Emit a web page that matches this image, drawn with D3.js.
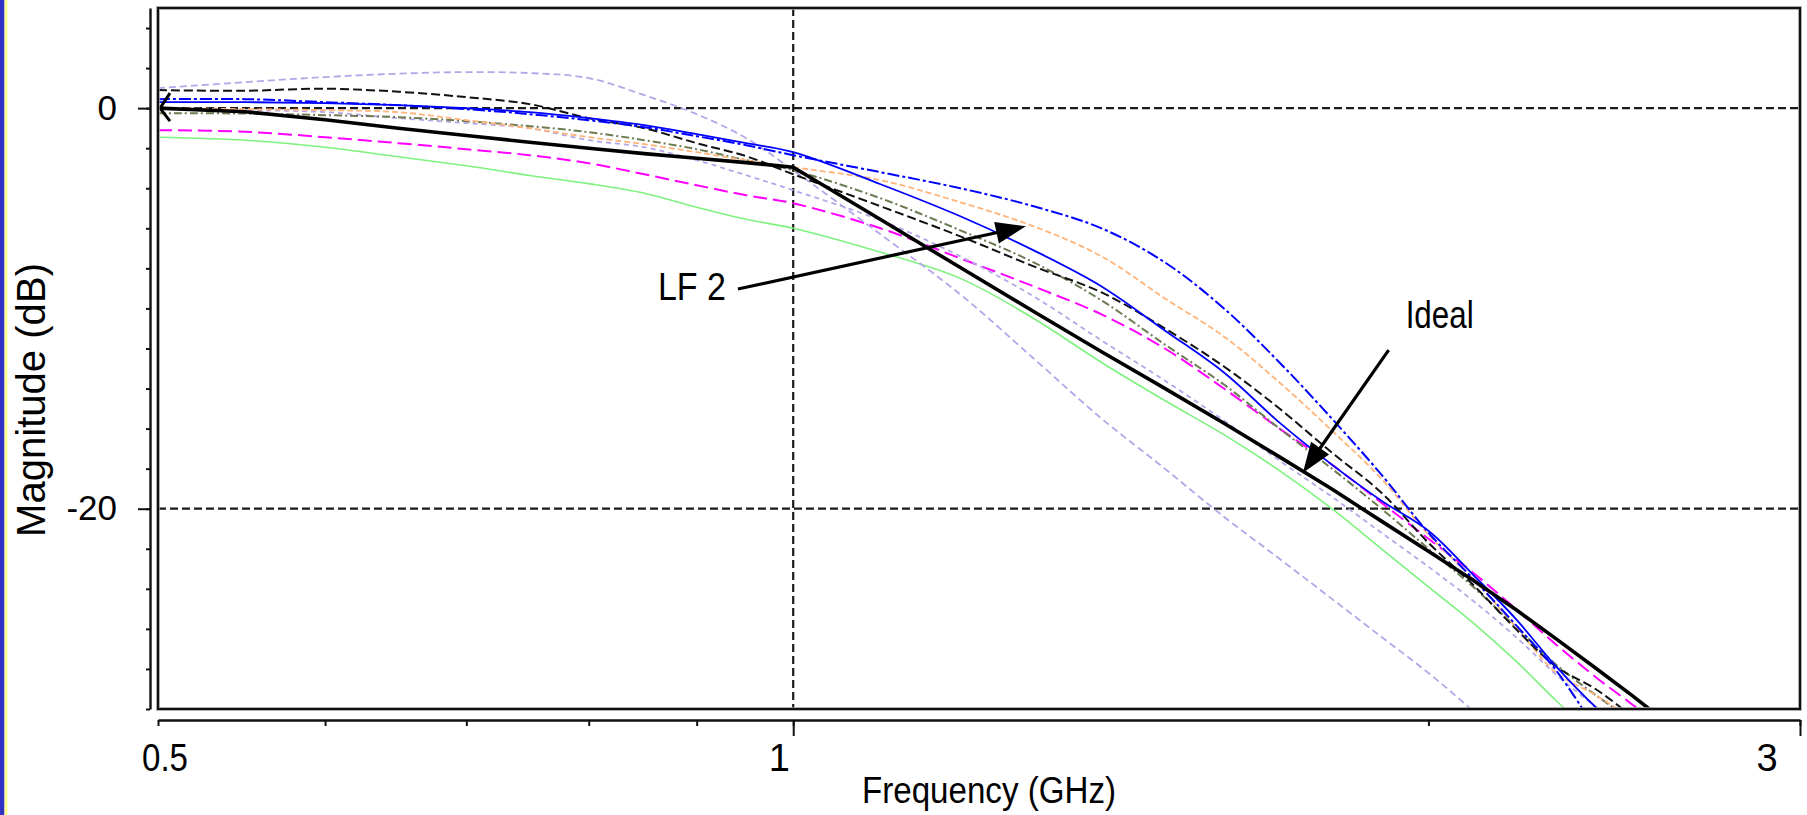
<!DOCTYPE html>
<html>
<head>
<meta charset="utf-8">
<script src="https://cdn.jsdelivr.net/npm/d3@7"></script>
<style>
  html, body { margin: 0; padding: 0; background: #ffffff; }
  svg { display: block; font-family: "Liberation Sans", Arial, Helvetica, sans-serif; }
</style>
</head>
<body>
<svg id="chart" width="1807" height="815"></svg>
<script>
// ---------------- DATA ----------------
const frequencies = [0.5, 0.55, 0.6, 0.65, 0.7, 0.75, 0.8, 0.85, 0.9, 0.95, 1.0,
                     1.1, 1.2, 1.3, 1.4, 1.5, 1.6, 1.7, 1.8, 1.9, 2.0,
                     2.1, 2.2, 2.3, 2.4, 2.5, 2.6, 2.7];          // GHz

const ideal       = [0, -0.18, -0.58, -1.0, -1.37, -1.7, -2.0, -2.27, -2.5, -2.72, -2.95,
                     -5.56, -7.96, -10.15, -12.16, -13.99, -15.73, -17.41, -19.02, -20.62, -22.12,
                     -23.57, -25.03, -26.51, -27.95, -29.36, -30.76, null];
const lavenderHigh= [1.0, 1.3, 1.55, 1.72, 1.8, 1.75, 1.5, 0.65, -0.3, -1.5, -3.1,
                     -6.3, -9.3, -12.5, -15.5, -18.0, -20.4, -22.5, -24.5, -26.4, -28.2,
                     -30.1, -32, null, null, null, null, null];
const lavenderLow = [-0.05, -0.1, -0.2, -0.5, -0.75, -1.0, -1.6, -1.95, -2.6, -3.35, -4.1,
                     -5.6, -7.4, -9.4, -11.6, -13.6, -15.6, -17.6, -19.4, -21.2, -22.9,
                     -24.6, -26.4, -28.3, -29.9, -31.5, null, null];
const blackDashed = [0.9, 0.87, 0.97, 0.82, 0.55, 0.2, -0.5, -1.0, -1.75, -2.4, -3.3,
                     -4.9, -6.4, -7.9, -9.2, -11.0, -12.9, -15.0, -17.2, -19.2, -21.7,
                     -23.8, -26.0, -27.9, -29.0, -30.4, null, null];
const blueDashDot = [0.45, 0.45, 0.3, 0.15, -0.05, -0.3, -0.6, -0.95, -1.4, -1.85, -2.35,
                     -3.2, -4.0, -4.9, -6.0, -7.7, -10.0, -12.7, -15.5, -18.3, -21.2,
                     -23.5, -25.8, -28.1, -31.0, null, null, null];
const blueSolid   = [0.3, 0.3, 0.25, 0.15, 0.0, -0.2, -0.5, -0.85, -1.3, -1.75, -2.2,
                     -3.8, -5.4, -7.1, -8.9, -11.1, -13.2, -15.7, -17.8, -19.6, -21.1,
                     -23.3, -25.5, -27.9, -29.9, -31.5, null, null];
const orangeLF2   = [0.0, -0.05, -0.1, -0.2, -0.6, -1.0, -1.45, -1.8, -2.2, -2.6, -2.95,
                     -3.6, -4.7, -5.9, -7.4, -9.5, -11.4, -13.7, -16.1, -18.5, -21.3,
                     -23.5, -25.9, -28.2, -29.3, -30.5, null, null];
const oliveDashDot= [-0.25, -0.27, -0.35, -0.45, -0.65, -0.9, -1.2, -1.6, -2.05, -2.6, -3.1,
                     -4.5, -6.1, -7.7, -9.6, -11.8, -13.8, -16.0, -18.0, -20.0, -22.0,
                     -23.9, -25.9, -27.8, -29.3, -30.6, null, null];
const magenta     = [-1.1, -1.18, -1.45, -1.75, -2.05, -2.35, -2.75, -3.3, -3.85, -4.35, -4.75,
                     -6.0, -7.5, -8.9, -10.3, -12.0, -14.0, -16.0, -17.8, -19.7, -21.5,
                     -23.2, -25.0, -26.8, -28.4, -29.8, -31.2, null];
const green       = [-1.45, -1.6, -1.95, -2.43, -2.88, -3.36, -3.77, -4.25, -4.95, -5.55, -6.0,
                     -7.2, -8.5, -10.5, -12.7, -14.6, -16.3, -18.1, -20.0, -22.0, -23.9,
                     -25.7, -27.6, -29.6, -31.4, null, null, null];

const dbTicks     = [-30, -28, -26, -24, -22, -20, -18, -16, -14, -12, -10, -8, -6, -4, -2, 0, 2, 4];
const dbLabels    = [0, -20];
const freqTicks   = [0.5, 0.6, 0.7, 0.8, 0.9, 1, 2, 3];
const freqMajor   = [1, 3];
const freqLabels  = ["0.5", "1", "3"];
const freqLabelValues = [0.5, 1, 3];
const gridDb      = [0, -20];
const gridFreq    = [1];

const annotationLabels   = ["LF 2", "Ideal"];
const annotationTipFreq  = [1.289, 1.744];
const annotationTipDb    = [-5.9, -18.2];
const annotationTailFreq = [0.9415, 1.915];
const annotationTailDb   = [-9.03, -12.08];

(function () {
// ---------------- STYLES ----------------
const seriesList = [
  { values: green,        color: "#7ef27e", width: 1.6, dash: null },
  { values: magenta,      color: "#ff00ff", width: 2.0, dash: "14,6" },
  { values: lavenderLow,  color: "#b5a6e8", width: 1.8, dash: "5,4" },
  { values: lavenderHigh, color: "#b5a6e8", width: 1.8, dash: "7,4" },
  { values: oliveDashDot, color: "#6b7c52", width: 2.0, dash: "8,3,2,3" },
  { values: orangeLF2,    color: "#ffb47a", width: 1.8, dash: "6,3" },
  { values: blackDashed,  color: "#111111", width: 2.0, dash: "9,4" },
  { values: blueSolid,    color: "#0000ff", width: 1.8, dash: null },
  { values: blueDashDot,  color: "#0000ff", width: 2.0, dash: "12,3,3,3" },
  { values: ideal,        color: "#000000", width: 3.6, dash: null, linear: true }
];

// ---------------- DRAW ----------------
const W = 1807, H = 815;
const pL = 158, pR = 1800, pT = 8, pB = 709;
const svg = d3.select("#chart");

svg.append("rect").attr("width", W).attr("height", H).attr("fill", "#ffffff");
// slide border on the left
svg.append("rect").attr("x", 0).attr("y", 0).attr("width", 4.5).attr("height", H).attr("fill", "#3232c6");
svg.append("rect").attr("x", 4.5).attr("y", 0).attr("width", 3).attr("height", H).attr("fill", "#ffff92");

const x = d3.scaleLog().domain([0.5, 3]).range([pL, pR]);
const y = d3.scaleLinear().domain([-30, 5]).range([pB, pT]);

svg.append("defs").append("clipPath").attr("id", "plotclip")
  .append("rect").attr("x", pL).attr("y", pT).attr("width", pR - pL).attr("height", pB - pT);

// grid lines
const grid = svg.append("g");
gridDb.forEach(v => grid.append("line")
  .attr("x1", pL).attr("x2", pR).attr("y1", y(v)).attr("y2", y(v))
  .attr("stroke", "#1a1a1a").attr("stroke-width", 2.2).attr("stroke-dasharray", "8,4"));
gridFreq.forEach(f => grid.append("line")
  .attr("x1", x(f)).attr("x2", x(f)).attr("y1", pT).attr("y2", pB)
  .attr("stroke", "#1a1a1a").attr("stroke-width", 2.2).attr("stroke-dasharray", "8,4"));

// curves
const smoothLine = d3.line()
  .defined(d => d[1] !== null)
  .x(d => x(d[0]))
  .y(d => y(d[1]))
  .curve(d3.curveCatmullRom.alpha(0.5));
const straightLine = d3.line()
  .defined(d => d[1] !== null)
  .x(d => x(d[0]))
  .y(d => y(d[1]))
  .curve(d3.curveLinear);

const curves = svg.append("g").attr("clip-path", "url(#plotclip)");
seriesList.forEach(s => {
  const pts = frequencies.map((f, i) => [f, s.values[i]]);
  const p = curves.append("path").datum(pts)
    .attr("d", s.linear ? straightLine : smoothLine)
    .attr("fill", "none")
    .attr("stroke", s.color)
    .attr("stroke-width", s.width)
    .attr("stroke-linejoin", "round");
  if (s.dash) p.attr("stroke-dasharray", s.dash);
});

// start marker of the ideal curve
{
  const x0 = x(frequencies[0]) + 2, y0 = y(ideal[0]);
  svg.append("path")
    .attr("d", `M${x0 + 10},${y0 - 15} L${x0},${y0} L${x0 + 10},${y0 + 13}`)
    .attr("fill", "none").attr("stroke", "#000").attr("stroke-width", 3);
}

// plot frame
svg.append("rect").attr("x", pL).attr("y", pT).attr("width", pR - pL).attr("height", pB - pT)
  .attr("fill", "none").attr("stroke", "#9a9a9a").attr("stroke-width", 3.6);
svg.append("rect").attr("x", pL).attr("y", pT).attr("width", pR - pL).attr("height", pB - pT)
  .attr("fill", "none").attr("stroke", "#111").attr("stroke-width", 2);

// y axis
const yAxisX = 150;
const yMinor = svg.append("g").attr("transform", `translate(${yAxisX},0)`)
  .call(d3.axisLeft(y).tickValues(dbTicks).tickSize(4).tickSizeOuter(0).tickFormat(""));
yMinor.select(".domain").attr("stroke", "#111").attr("stroke-width", 2.4);
yMinor.selectAll(".tick line").attr("stroke", "#111").attr("stroke-width", 2);

const yMajor = svg.append("g").attr("transform", `translate(${yAxisX},0)`)
  .call(d3.axisLeft(y).tickValues(dbLabels).tickSize(12).tickPadding(21).tickFormat(d => String(d)));
yMajor.select(".domain").remove();
yMajor.selectAll(".tick line").attr("stroke", "#111").attr("stroke-width", 2);
yMajor.selectAll(".tick text").attr("font-size", 35).attr("fill", "#000")
  .attr("font-family", "'Liberation Sans', Arial, sans-serif");

// x axis
const xAxisY = 720;
const xMinor = svg.append("g").attr("transform", `translate(0,${xAxisY})`)
  .call(d3.axisBottom(x).tickValues(freqTicks).tickSize(6).tickSizeOuter(0).tickFormat(""));
xMinor.select(".domain").attr("stroke", "#111").attr("stroke-width", 2.4);
xMinor.selectAll(".tick line").attr("stroke", "#111").attr("stroke-width", 2);

const xMajor = svg.append("g").attr("transform", `translate(0,${xAxisY})`)
  .call(d3.axisBottom(x).tickValues(freqMajor).tickSize(16).tickFormat(""));
xMajor.select(".domain").remove();
xMajor.selectAll(".tick line").attr("stroke", "#111").attr("stroke-width", 2);

const labelDx = [7, -14, -33];
const labelLen = [46, null, null];
freqLabelValues.forEach((v, i) => {
  const t = svg.append("text")
    .attr("x", x(v) + labelDx[i]).attr("y", 771)
    .attr("text-anchor", "middle").attr("font-size", 38).attr("fill", "#000")
    .text(freqLabels[i]);
  if (labelLen[i]) t.attr("textLength", labelLen[i]).attr("lengthAdjust", "spacingAndGlyphs");
});

// axis titles
svg.append("text")
  .attr("x", 862).attr("y", 803)
  .attr("font-size", 36).attr("fill", "#000")
  .attr("textLength", 254).attr("lengthAdjust", "spacingAndGlyphs")
  .text("Frequency (GHz)");

svg.append("text")
  .attr("transform", "translate(45,400) rotate(-90)")
  .attr("text-anchor", "middle")
  .attr("font-size", 41).attr("fill", "#000")
  .attr("textLength", 274).attr("lengthAdjust", "spacingAndGlyphs")
  .text("Magnitude (dB)");

// annotations
const headLen = 30, headHalf = 11;
annotationLabels.forEach((lab, i) => {
  const tip = [x(annotationTipFreq[i]), y(annotationTipDb[i])];
  const tail = [x(annotationTailFreq[i]), y(annotationTailDb[i])];
  const dx = tip[0] - tail[0], dy = tip[1] - tail[1];
  const len = Math.hypot(dx, dy);
  const ux = dx / len, uy = dy / len;
  const base = [tip[0] - ux * headLen, tip[1] - uy * headLen];
  svg.append("line")
    .attr("x1", tail[0]).attr("y1", tail[1]).attr("x2", base[0] + ux * 2).attr("y2", base[1] + uy * 2)
    .attr("stroke", "#000").attr("stroke-width", 3.2);
  svg.append("polygon")
    .attr("points", [
      tip,
      [base[0] - uy * headHalf, base[1] + ux * headHalf],
      [base[0] + uy * headHalf, base[1] - ux * headHalf]
    ].map(p => p.join(",")).join(" "))
    .attr("fill", "#000");
  if (i === 0) {
    svg.append("text").attr("x", tail[0] - 12).attr("y", tail[1] + 11)
      .attr("text-anchor", "end").attr("font-size", 38).attr("fill", "#000")
      .attr("textLength", 68).attr("lengthAdjust", "spacingAndGlyphs")
      .text(lab);
  } else {
    svg.append("text").attr("x", tail[0] + 17).attr("y", tail[1] - 22)
      .attr("text-anchor", "start").attr("font-size", 39).attr("fill", "#000")
      .attr("textLength", 68).attr("lengthAdjust", "spacingAndGlyphs")
      .text(lab);
  }
});
})();
</script>
</body>
</html>
